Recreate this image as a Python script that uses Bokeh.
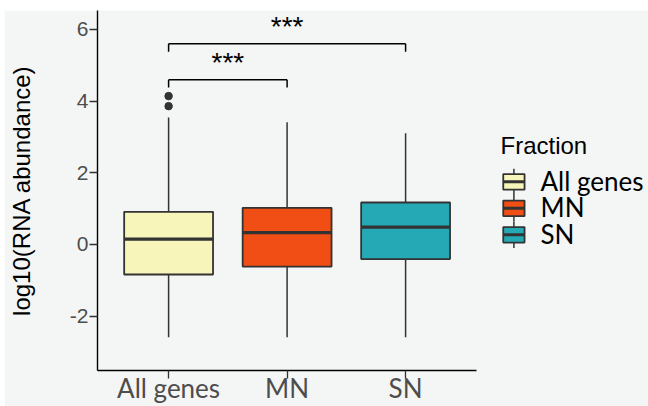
from bokeh.plotting import figure
from bokeh.models import Range1d, FixedTicker, ColumnDataSource, Spacer, LabelSet
from bokeh.layouts import row, column
from bokeh.core.properties import value
from bokeh.embed import file_html
from bokeh.resources import INLINE

# ---------------- data ----------------
categories = ["All genes", "MN", "SN"]
q1 = [-0.84, -0.62, -0.41]
median = [0.15, 0.33, 0.48]
q3 = [0.91, 1.02, 1.17]
whisker_low = [-2.59, -2.59, -2.59]
whisker_high = [3.54, 3.41, 3.10]
outlier_cat = ["All genes", "All genes"]
outlier_val = [3.86, 4.14]
fill_colors = ["#F7F5B9", "#F04E14", "#25AAB5"]
y_ticks = [-2, 0, 2, 4, 6]
y_tick_labels = ["-2", "0", "2", "4", "6"]
comp_start = ["All genes", "All genes"]
comp_end = ["MN", "SN"]
comp_y = [4.60, 5.60]
comp_label = ["***", "***"]
legend_title = "Fraction"
y_label = "log10(RNA abundance)"

# ---------------- style / layout ----------------
BG = "#F4F5F5"
LINE = "#333333"
BOX_W = 0.75
DROP = 0.22
SANS = value("Liberation Sans")
CAL = value("Lato")

PAGE_W, PAGE_H = 648, 406
TOP_W, LEFT_W = 10, 4          # white strips
FRAME_L, FRAME_T, FRAME_B = 97, 10, 373   # page pixels of the panel
PX_PER_X = 118.5
X0, X1_DATA = 0.4, 3.6
Y0, Y1 = -3.52, 6.53

pos = {c: i + 1 for i, c in enumerate(categories)}
xs = [pos[c] for c in categories]

src = ColumnDataSource(dict(
    x=xs, q1=q1, med=median, q3=q3, lo=whisker_low, hi=whisker_high,
    color=fill_colors,
    left=[x - BOX_W / 2 for x in xs], right=[x + BOX_W / 2 for x in xs],
))

fig_w = PAGE_W - LEFT_W
fig_h = PAGE_H - TOP_W
x_end = X0 + (PAGE_W - FRAME_L) / PX_PER_X

p = figure(width=fig_w, height=fig_h, x_range=Range1d(X0, x_end), y_range=Range1d(Y0, Y1),
           output_backend="svg", toolbar_location=None,
           min_border_left=FRAME_L - LEFT_W, min_border_right=0,
           min_border_top=FRAME_T - TOP_W, min_border_bottom=PAGE_H - FRAME_B)
p.background_fill_color = BG
p.border_fill_color = BG
p.outline_line_color = None
p.grid.visible = False
# pixel ranges for the legend area
p.extra_x_ranges = {"px": Range1d(FRAME_L, PAGE_W)}
p.extra_y_ranges = {"py": Range1d(FRAME_B, FRAME_T)}

# whiskers
p.segment(x0="x", y0="q3", x1="x", y1="hi", source=src, line_color=LINE, line_width=1.5)
p.segment(x0="x", y0="q1", x1="x", y1="lo", source=src, line_color=LINE, line_width=1.5)
# boxes
p.vbar(x="x", top="q3", bottom="q1", width=BOX_W, source=src, fill_color="color",
       line_color=LINE, line_width=1.8)
# medians
p.segment(x0="left", y0="med", x1="right", y1="med", source=src, line_color=LINE, line_width=3.2)
# outliers
p.scatter(x=[pos[c] for c in outlier_cat], y=outlier_val, size=7.5, fill_color=LINE, line_color=LINE)

# significance brackets
bx0 = [pos[c] for c in comp_start]
bx1 = [pos[c] for c in comp_end]
p.segment(x0=bx0, y0=comp_y, x1=bx1, y1=comp_y, line_color="black", line_width=1.5)
p.segment(x0=bx0, y0=comp_y, x1=bx0, y1=[y - DROP for y in comp_y], line_color="black", line_width=1.5)
p.segment(x0=bx1, y0=comp_y, x1=bx1, y1=[y - DROP for y in comp_y], line_color="black", line_width=1.5)
star_src = ColumnDataSource(dict(x=[(a + b) / 2 for a, b in zip(bx0, bx1)], y=comp_y, t=comp_label))
p.add_layout(LabelSet(x="x", y="y", text="t", source=star_src, text_align="center",
                      text_baseline="middle", y_offset=17, text_font=SANS,
                      text_font_size="28px", text_color="black"))

# axes
p.xaxis.ticker = FixedTicker(ticks=xs)
p.xaxis.major_label_overrides = {x: c for x, c in zip(xs, categories)}
p.xaxis.bounds = (X0, X1_DATA)
p.yaxis.ticker = FixedTicker(ticks=y_ticks)
p.yaxis.major_label_overrides = {t: s for t, s in zip(y_ticks, y_tick_labels)}
for ax in (p.xaxis[0], p.yaxis[0]):
    ax.axis_line_color = "black"
    ax.axis_line_width = 1.4
    ax.major_tick_line_color = LINE
    ax.major_tick_line_width = 1.3
    ax.major_tick_out = 8
    ax.major_tick_in = 0
    ax.minor_tick_line_color = None
    ax.major_label_text_color = "#4D4D4D"
p.xaxis.major_label_text_font = "Lato"
p.xaxis.major_label_text_font_size = "26px"
p.xaxis.major_label_standoff = -7
p.yaxis.major_label_text_font = "Liberation Sans"
p.yaxis.major_label_text_font_size = "21px"
p.yaxis.major_label_standoff = 1
p.yaxis.axis_label = y_label
p.yaxis.axis_label_text_font = "Liberation Sans"
p.yaxis.axis_label_text_font_size = "24px"
p.yaxis.axis_label_text_font_style = "normal"
p.yaxis.axis_label_text_color = "black"
p.yaxis.axis_label_standoff = 32

# ---------------- legend (page pixel coordinates via extra ranges) ----------------
KX, KW, KH, ROW = 513.4, 21.3, 15.7, 26.7
yc = [182.8 + i * ROW for i in range(len(categories))]
n = len(categories)
p.text(x=[500], y=[146], text=[legend_title], text_font=SANS, text_font_size="24px",
       text_baseline="alphabetic", text_color="black", x_range_name="px", y_range_name="py")
p.segment(x0=[KX] * n, y0=[y - ROW / 2 for y in yc], x1=[KX] * n, y1=[y + ROW / 2 for y in yc],
          line_color=LINE, line_width=1.5, x_range_name="px", y_range_name="py")
p.rect(x=[KX] * n, y=yc, width=KW, height=KH, fill_color=fill_colors,
       line_color=LINE, line_width=1.8, x_range_name="px", y_range_name="py")
p.segment(x0=[KX - KW / 2] * n, y0=yc, x1=[KX + KW / 2] * n, y1=yc,
          line_color=LINE, line_width=3, x_range_name="px", y_range_name="py")
p.text(x=[540] * n, y=[y - 1 for y in yc], text=categories, text_font=CAL,
       text_font_size="26px", text_baseline="alphabetic", text_color="black",
       x_range_name="px", y_range_name="py")

layout = column(Spacer(height=TOP_W), row(Spacer(width=LEFT_W), p))
layout.background = "white"

open("out.html", "w").write(file_html(layout, INLINE))
